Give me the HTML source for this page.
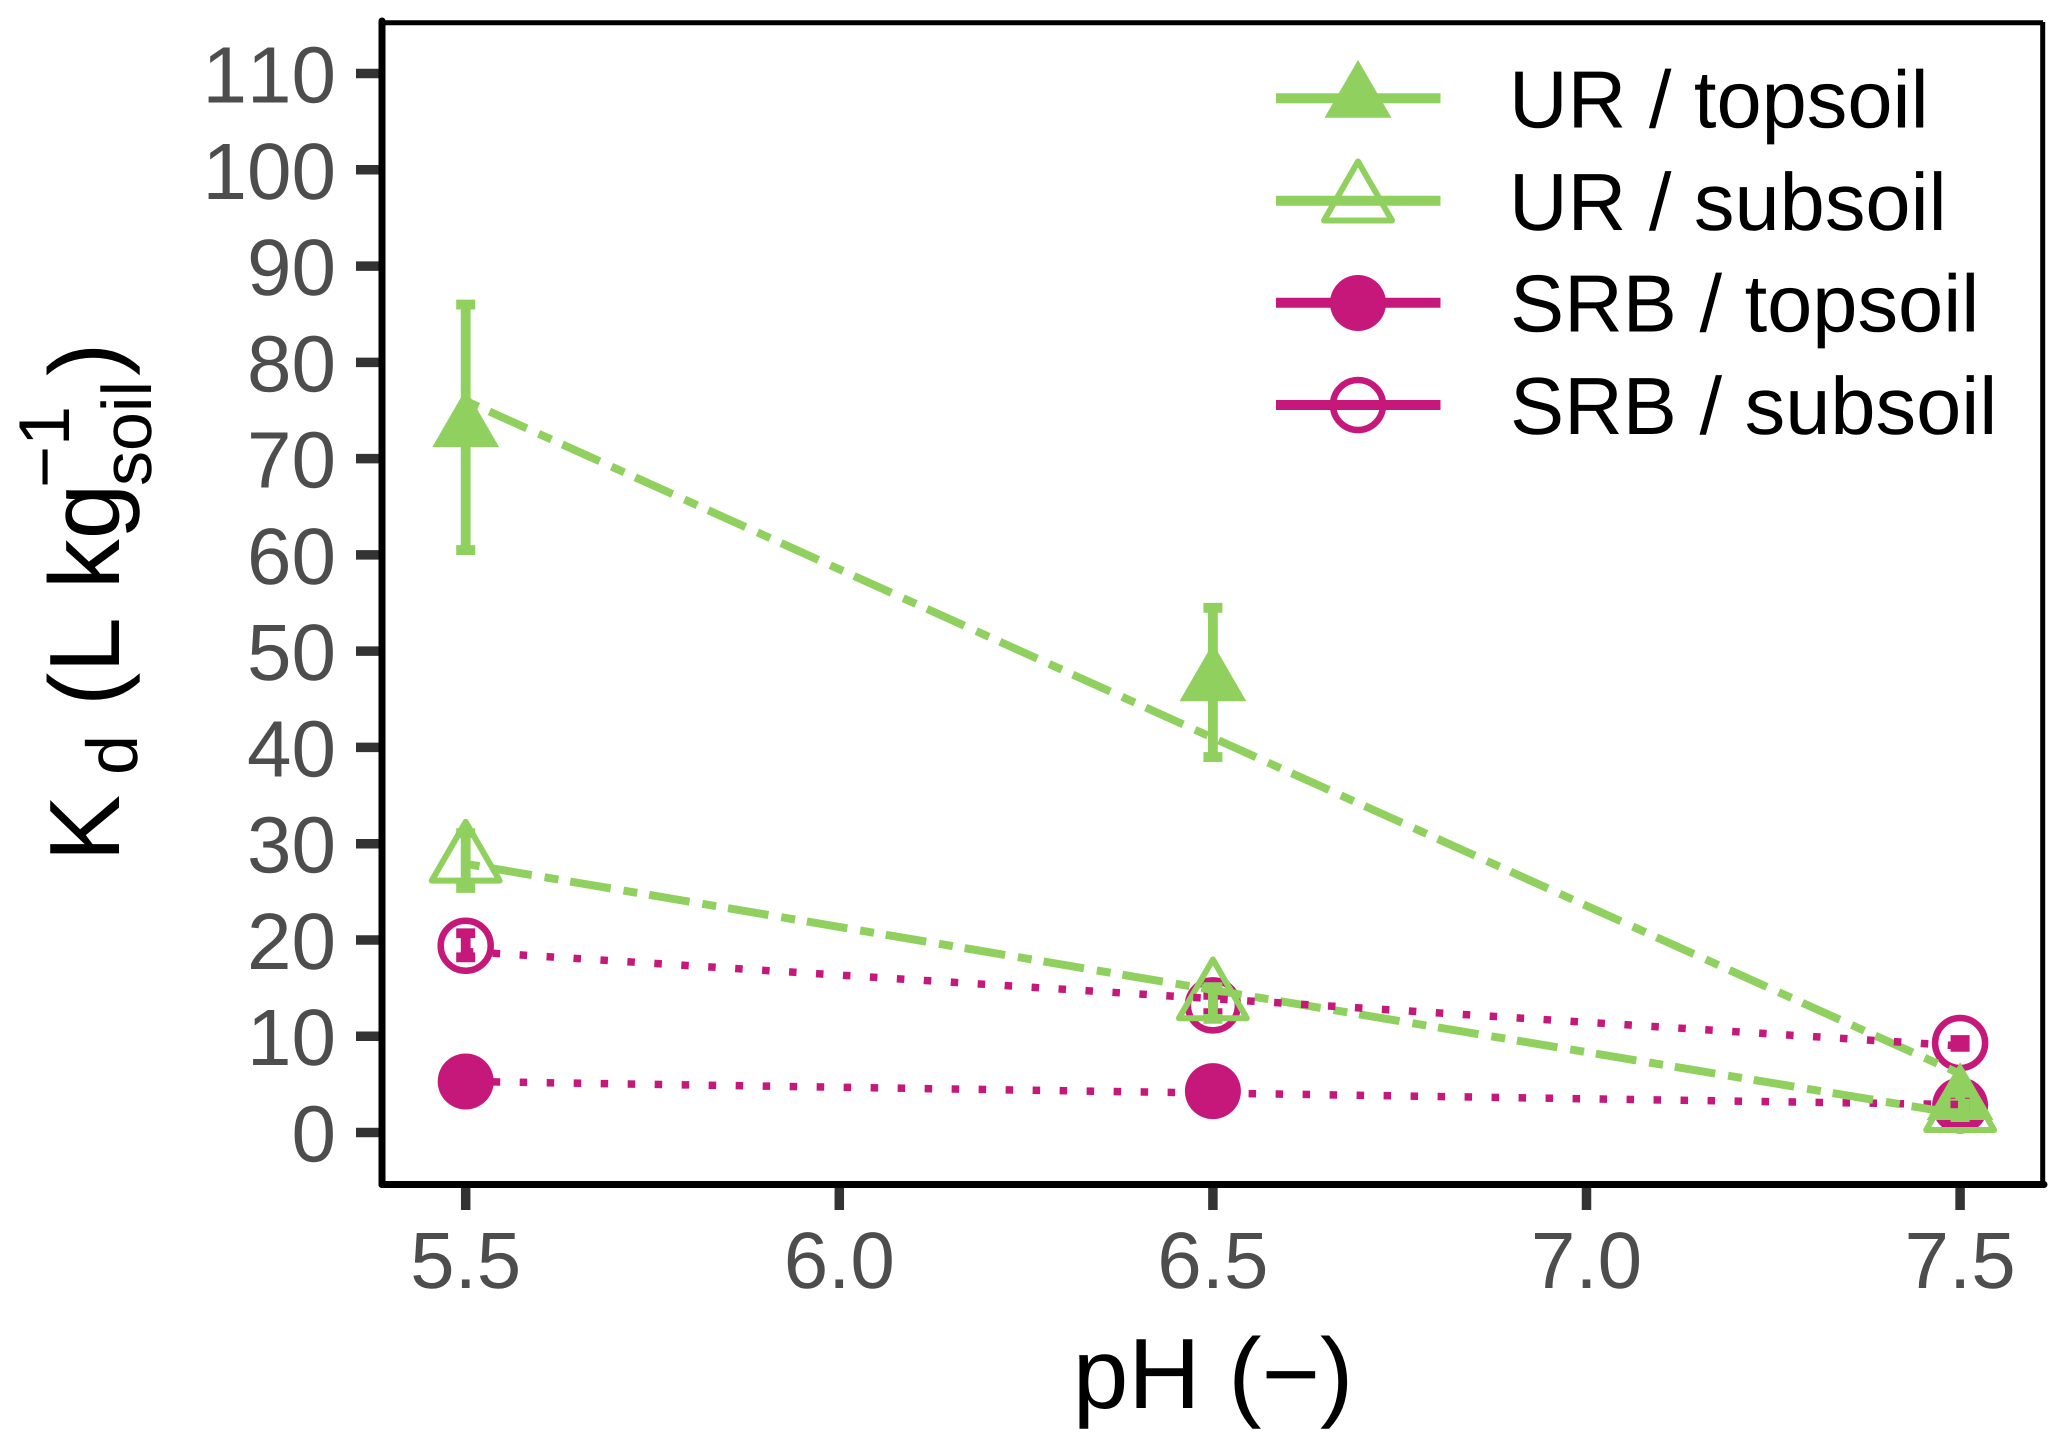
<!DOCTYPE html>
<html lang="en">
<head>
<meta charset="utf-8">
<title>Kd versus pH</title>
<style>
  html, body { margin: 0; padding: 0; background: #ffffff; }
  svg { display: block; font-family: "Liberation Sans", Arial, sans-serif; font-kerning: none; text-rendering: geometricPrecision; }
</style>
</head>
<body>
<svg id="chart" xmlns="http://www.w3.org/2000/svg" width="2067" height="1446" viewBox="0 0 2067 1446">
  <rect x="0" y="0" width="2067" height="1446" fill="#ffffff"/>
  <g id="axes-under"></g>
  <g id="marks"></g>
  <g fill="none" stroke="#000000">
    <line x1="382" y1="22.7" x2="2043" y2="22.7" stroke-width="5"/>
    <line x1="2042.7" y1="22" x2="2042.7" y2="1185" stroke-width="5"/>
    <line x1="382" y1="21" x2="382" y2="1184.5" stroke-width="7" stroke-linecap="round"/>
    <line x1="382" y1="1184.5" x2="2044" y2="1184.5" stroke-width="7" stroke-linecap="round"/>
  </g>

  <g fill="#000000">
    <text transform="translate(119 861.6) rotate(-90)" font-size="100">K</text>
    <text transform="translate(137 775) rotate(-90)" font-size="72">d</text>
    <text transform="translate(119 706) rotate(-90)" font-size="100">(L kg</text>
    <text transform="translate(151 486) rotate(-90)" font-size="70">soil</text>
    <text transform="translate(69 488) rotate(-90)" font-size="72">−1</text>
    <text transform="translate(119 376) rotate(-90)" font-size="100">)</text>
  </g>
  <text x="1072.7" y="1408" font-size="100" fill="#000000">pH (−)</text>

  <g>
    <g>
      <line x1="1276" y1="98.3" x2="1440.5" y2="98.3" stroke="#8fd05f" stroke-width="10"/>
      <polygon points="1358,60 1391.5,117.7 1324.5,117.7" fill="#8fd05f"/>
      <text x="1509" y="127.7" font-size="81.2" fill="#000000">UR / topsoil</text>
    </g>
    <g>
      <line x1="1276" y1="200.7" x2="1440.5" y2="200.7" stroke="#8fd05f" stroke-width="10"/>
      <polygon points="1358,161.5 1392,220.5 1324,220.5" fill="none" stroke="#8fd05f" stroke-width="6" stroke-linejoin="round"/>
      <text x="1509" y="230" font-size="81.2" fill="#000000">UR / subsoil</text>
    </g>
    <g>
      <line x1="1276" y1="302.7" x2="1440.5" y2="302.7" stroke="#c5187a" stroke-width="10"/>
      <circle cx="1358" cy="303" r="28" fill="#c5187a"/>
      <text x="1510" y="331.7" font-size="81.2" fill="#000000">SRB / topsoil</text>
    </g>
    <g>
      <line x1="1276" y1="405" x2="1440.5" y2="405" stroke="#c5187a" stroke-width="10"/>
      <circle cx="1358" cy="405" r="25" fill="none" stroke="#c5187a" stroke-width="6.5"/>
      <text x="1510" y="434" font-size="81.2" fill="#000000">SRB / subsoil</text>
    </g>
  </g>
</svg>

<script>
// ---- chart data ----
const xTickValues = [5.5, 6.0, 6.5, 7.0, 7.5];
const xTickLabels = ['5.5', '6.0', '6.5', '7.0', '7.5'];
const yTickValues = [0, 10, 20, 30, 40, 50, 60, 70, 80, 90, 100, 110];
const yTickLabels = ['0', '10', '20', '30', '40', '50', '60', '70', '80', '90', '100', '110'];

const phLevels = [5.5, 6.5, 7.5];

const urTopsoilMean = [73.2, 46.8, 3.3];
const urTopsoilLow = [60.5, 39.0, 2.4];
const urTopsoilHigh = [86.0, 54.5, 4.2];
const urTopsoilFit = [76.0, 41.0, 6.1];

const urSubsoilMean = [28.2, 13.9, 2.3];
const urSubsoilLow = [25.4, 11.8, 1.6];
const urSubsoilHigh = [31.1, 15.1, 3.0];
const urSubsoilFit = [27.9, 14.8, 1.9];

const srbTopsoilMean = [5.3, 4.3, 2.8];
const srbTopsoilLow = [5.0, 4.0, 2.5];
const srbTopsoilHigh = [5.6, 4.6, 3.1];
const srbTopsoilFit = [5.3, 4.1, 2.9];

const srbSubsoilMean = [19.4, 13.2, 9.3];
const srbSubsoilLow = [18.2, 12.4, 8.9];
const srbSubsoilHigh = [20.7, 14.3, 9.6];
const srbSubsoilFit = [18.8, 13.9, 9.0];

// ---- axis functions ----
function xScale(v) { return 465.7 + (v - 5.5) * 747.2; }
function yScale(v) { return 1132.5 - v * 9.627; }

const SVGNS = 'http://www.w3.org/2000/svg';
const GREEN = '#8fd05f';
const PINK = '#c5187a';
const marks = document.getElementById('marks');
const under = document.getElementById('axes-under');

function make(tag, parent, props) {
  const node = document.createElementNS(SVGNS, tag);
  for (const key in props) node.setAttribute(key, props[key]);
  parent.appendChild(node);
  return node;
}

// ---- ticks and tick labels ----
xTickValues.forEach(function (v, i) {
  const tick = make('line', under, { x1: xScale(v), x2: xScale(v), y1: 1185, y2: 1210, stroke: '#333333', 'stroke-width': 9.5 });
  
  
  const label = make('text', under, { x: xScale(v), y: 1288, 'font-size': 80, fill: '#4d4d4d', 'text-anchor': 'middle' });
  
  
  label.textContent = xTickLabels[i];
});
yTickValues.forEach(function (v, i) {
  const tick = make('line', under, { x1: 356, x2: 380, y1: yScale(v), y2: yScale(v), stroke: '#333333', 'stroke-width': 9.5 });
  
  
  const label = make('text', under, { x: 336, y: yScale(v) + 29, 'font-size': 80, fill: '#4d4d4d', 'text-anchor': 'end' });
  
  
  label.textContent = yTickLabels[i];
});

// ---- marker drawing ----
function drawCircles(values, color, hollow, name) {
  values.forEach(function (v, i) {
    const props = hollow
      ? { cx: xScale(phLevels[i]), cy: yScale(v), r: 25, fill: 'none', stroke: color, 'stroke-width': 6.5 }
      : { cx: xScale(phLevels[i]), cy: yScale(v), r: 28, fill: color };
    const dot = make('circle', marks, props);
    
    
  });
}
function trianglePoints(cx, cy, r) {
  const halfWidth = r * 0.866;
  return cx + ',' + (cy - r) + ' ' + (cx + halfWidth) + ',' + (cy + r / 2) + ' ' + (cx - halfWidth) + ',' + (cy + r / 2);
}
function drawTriangles(values, color, hollow, name) {
  values.forEach(function (v, i) {
    const cx = xScale(phLevels[i]);
    const cy = yScale(v);
    const props = hollow
      ? { points: trianglePoints(cx, cy, 39.2), fill: 'none', stroke: color, 'stroke-width': 6, 'stroke-linejoin': 'round' }
      : { points: trianglePoints(cx, cy, 38.6), fill: color };
    const tri = make('polygon', marks, props);
    
    
  });
}
function drawErrorBars(lows, highs, color, name) {
  lows.forEach(function (low, i) {
    const cx = xScale(phLevels[i]);
    const yLow = yScale(low);
    const yHigh = yScale(highs[i]);
    const d = 'M' + cx + ' ' + yLow + 'V' + yHigh +
      'M' + (cx - 9.5) + ' ' + yHigh + 'H' + (cx + 9.5) +
      'M' + (cx - 9.5) + ' ' + yLow + 'H' + (cx + 9.5);
    const bar = make('path', marks, { d: d, fill: 'none', stroke: color, 'stroke-width': 9.8 });
    
    
  });
}
function drawFit(values, color, dash, width, name) {
  const d = values.map(function (v, i) {
    return (i === 0 ? 'M' : 'L') + xScale(phLevels[i]) + ' ' + yScale(v);
  }).join('');
  const line = make('path', marks, { d: d, fill: 'none', stroke: color, 'stroke-width': width, 'stroke-dasharray': dash });
  
  
}

// ---- layers: points, then error bars, then fitted lines ----
drawCircles(srbTopsoilMean, PINK, false, 'point-srb-topsoil');
drawCircles(srbSubsoilMean, PINK, true, 'point-srb-subsoil');
drawTriangles(urTopsoilMean, GREEN, false, 'point-ur-topsoil');
drawTriangles(urSubsoilMean, GREEN, true, 'point-ur-subsoil');

drawErrorBars(srbTopsoilLow, srbTopsoilHigh, PINK, 'error-bar-srb-topsoil');
drawErrorBars(srbSubsoilLow, srbSubsoilHigh, PINK, 'error-bar-srb-subsoil');
drawErrorBars(urTopsoilLow, urTopsoilHigh, GREEN, 'error-bar-ur-topsoil');
drawErrorBars(urSubsoilLow, urSubsoilHigh, GREEN, 'error-bar-ur-subsoil');

drawFit(srbTopsoilFit, PINK, '7.5 19.5', 7.5, 'fit-line-srb-topsoil');
drawFit(urTopsoilFit, GREEN, '14 12 41 13', 8, 'fit-line-ur-topsoil');
drawFit(urSubsoilFit, GREEN, '14 12 41 13', 8, 'fit-line-ur-subsoil');
drawFit(srbSubsoilFit, PINK, '7.5 19.5', 7.5, 'fit-line-srb-subsoil');
</script>
</body>
</html>
